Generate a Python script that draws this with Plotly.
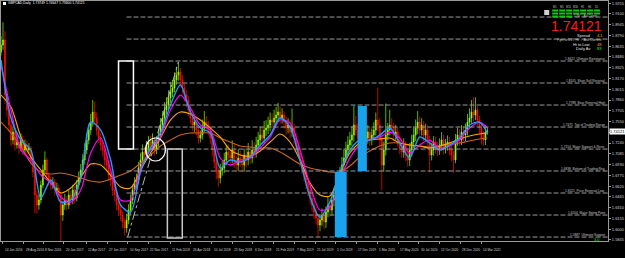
import pandas as pd
import plotly.graph_objects as go

# ---------------- data ----------------
title_text = "GBPCAD,Daily  1.73749 1.74647 1.73600 1.74121"
first_bar, last_bar = "2016-06-07", "2021-04-05"
first_open = 1.8550

close = [1.8652,1.8724,1.7932,1.7716,1.7500,1.7284,1.7399,1.7212,1.7255,1.7169,
 1.7284,1.7140,1.7212,1.7140,1.7169,1.6996,1.6823,1.6492,1.6348,1.6420,
 1.6636,1.6852,1.6996,1.6780,1.6708,1.6636,1.6679,1.6564,1.6593,1.6492,
 1.6204,1.6348,1.6420,1.6348,1.6492,1.6420,1.6564,1.6449,1.6636,1.6737,
 1.6852,1.6996,1.7140,1.7284,1.7428,1.7543,1.7687,1.7601,1.7428,1.7313,
 1.7212,1.7140,1.6996,1.6924,1.6780,1.6708,1.6564,1.6492,1.6348,1.6276,
 1.6204,1.6103,1.6017,1.6132,1.6276,1.6420,1.6564,1.6636,1.6708,1.6881,
 1.6996,1.7111,1.7068,1.7169,1.7255,1.7212,1.7284,1.7140,1.7255,1.7356,
 1.7500,1.7601,1.7716,1.7788,1.7889,1.7975,1.8033,1.8148,1.8220,1.8263,
 1.8148,1.8033,1.7932,1.7860,1.7716,1.7601,1.7500,1.7543,1.7428,1.7313,
 1.7356,1.7457,1.7543,1.7500,1.7428,1.7313,1.7140,1.6967,1.6823,1.6737,
 1.6852,1.6881,1.6996,1.7111,1.7068,1.7025,1.7140,1.6967,1.6924,1.7025,
 1.6996,1.6924,1.7068,1.6996,1.7111,1.7025,1.7140,1.7111,1.7212,1.7284,
 1.7356,1.7313,1.7428,1.7457,1.7500,1.7572,1.7543,1.7601,1.7644,1.7687,
 1.7601,1.7644,1.7543,1.7457,1.7500,1.7399,1.7457,1.7313,1.7212,1.7111,
 1.6996,1.6881,1.6780,1.6679,1.6564,1.6449,1.6348,1.6247,1.6161,1.6060,
 1.6132,1.6204,1.6103,1.6247,1.6348,1.6276,1.6420,1.6492,1.6564,1.6679,
 1.6780,1.6924,1.7025,1.7140,1.7212,1.7284,1.7356,1.7500,1.7428,1.7313,
 1.7255,1.7356,1.7284,1.7313,1.7399,1.7284,1.7356,1.7428,1.7572,1.7500,
 1.7284,1.6924,1.7140,1.7356,1.7428,1.7500,1.7457,1.7356,1.7399,1.7284,
 1.7169,1.7111,1.7212,1.7068,1.6996,1.7140,1.7255,1.7356,1.7457,1.7543,
 1.7428,1.7500,1.7356,1.7428,1.7284,1.7068,1.7140,1.7255,1.7169,1.7140,
 1.7212,1.7284,1.7169,1.7212,1.7255,1.7140,1.7068,1.6996,1.7284,1.7356,
 1.7284,1.7399,1.7356,1.7428,1.7543,1.7601,1.7687,1.7644,1.7716,1.7572,
 1.7457,1.7313,1.7284,1.7399,1.74121]

high = [1.878,1.898,1.885,1.800,1.780,1.757,1.748,1.746,1.734,1.733,
 1.738,1.735,1.729,1.727,1.724,1.720,1.704,1.686,1.655,1.650,
 1.670,1.693,1.712,1.703,1.682,1.676,1.675,1.672,1.667,1.664,
 1.653,1.641,1.651,1.648,1.656,1.655,1.664,1.662,1.671,1.683,
 1.694,1.708,1.724,1.738,1.752,1.766,1.786,1.784,1.768,1.750,
 1.738,1.728,1.720,1.707,1.698,1.684,1.677,1.663,1.655,1.641,
 1.635,1.627,1.616,1.622,1.636,1.650,1.664,1.675,1.680,1.697,
 1.710,1.722,1.718,1.727,1.734,1.735,1.738,1.733,1.733,1.745,
 1.760,1.770,1.783,1.790,1.800,1.812,1.815,1.826,1.834,1.841,
 1.832,1.822,1.810,1.800,1.792,1.778,1.768,1.762,1.760,1.748,
 1.742,1.758,1.770,1.763,1.756,1.748,1.738,1.720,1.702,1.689,
 1.694,1.698,1.710,1.720,1.722,1.716,1.728,1.722,1.705,1.715,
 1.713,1.708,1.716,1.715,1.724,1.718,1.728,1.725,1.733,1.740,
 1.748,1.747,1.756,1.757,1.762,1.768,1.767,1.772,1.776,1.782,
 1.777,1.774,1.770,1.762,1.760,1.758,1.774,1.752,1.738,1.728,
 1.717,1.705,1.695,1.684,1.674,1.663,1.651,1.642,1.632,1.622,
 1.621,1.630,1.628,1.633,1.646,1.643,1.652,1.660,1.666,1.678,
 1.690,1.704,1.715,1.726,1.734,1.740,1.748,1.778,1.763,1.752,
 1.740,1.745,1.743,1.742,1.750,1.748,1.745,1.754,1.768,1.804,
 1.760,1.735,1.726,1.781,1.753,1.772,1.760,1.753,1.750,1.746,
 1.735,1.724,1.731,1.727,1.713,1.724,1.736,1.748,1.758,1.770,
 1.762,1.760,1.756,1.752,1.750,1.735,1.724,1.734,1.733,1.726,
 1.731,1.740,1.736,1.730,1.735,1.733,1.721,1.713,1.737,1.746,
 1.744,1.750,1.748,1.752,1.766,1.774,1.786,1.790,1.790,1.777,
 1.763,1.752,1.741,1.750,1.7465]

low = [1.850,1.858,1.780,1.762,1.740,1.720,1.722,1.713,1.716,1.708,
 1.712,1.706,1.709,1.705,1.709,1.692,1.675,1.623,1.623,1.628,
 1.637,1.659,1.680,1.671,1.662,1.656,1.658,1.648,1.650,1.640,
 1.578,1.612,1.628,1.627,1.629,1.635,1.636,1.637,1.640,1.657,
 1.667,1.679,1.693,1.708,1.722,1.736,1.748,1.752,1.735,1.724,
 1.713,1.705,1.690,1.684,1.670,1.662,1.648,1.640,1.627,1.619,
 1.612,1.601,1.591,1.595,1.607,1.621,1.636,1.650,1.658,1.665,
 1.683,1.694,1.699,1.700,1.710,1.714,1.715,1.706,1.708,1.719,
 1.729,1.742,1.752,1.765,1.771,1.782,1.790,1.797,1.808,1.814,
 1.806,1.795,1.784,1.776,1.763,1.752,1.742,1.740,1.735,1.723,
 1.725,1.729,1.740,1.742,1.735,1.723,1.705,1.688,1.672,1.661,
 1.666,1.677,1.681,1.692,1.697,1.693,1.695,1.688,1.682,1.684,
 1.690,1.682,1.683,1.689,1.692,1.694,1.695,1.702,1.703,1.713,
 1.719,1.722,1.723,1.734,1.737,1.741,1.745,1.746,1.751,1.755,
 1.751,1.752,1.745,1.736,1.738,1.731,1.733,1.722,1.712,1.702,
 1.690,1.679,1.669,1.658,1.647,1.636,1.626,1.615,1.607,1.589,
 1.597,1.605,1.600,1.602,1.617,1.618,1.620,1.633,1.641,1.648,
 1.660,1.670,1.684,1.695,1.705,1.712,1.720,1.726,1.735,1.723,
 1.717,1.718,1.720,1.721,1.723,1.720,1.721,1.728,1.735,1.742,
 1.720,1.656,1.683,1.706,1.728,1.735,1.737,1.727,1.728,1.719,
 1.708,1.703,1.703,1.698,1.690,1.691,1.705,1.717,1.727,1.737,
 1.735,1.735,1.727,1.728,1.720,1.682,1.699,1.706,1.709,1.705,
 1.707,1.713,1.708,1.709,1.713,1.706,1.698,1.681,1.695,1.720,
 1.720,1.721,1.727,1.727,1.735,1.745,1.752,1.755,1.757,1.749,
 1.737,1.722,1.720,1.721,1.7360]

# moving averages sampled every 5th bar (plus the last bar)
ma_bar_index = list(range(0, 245, 5)) + [244]
ma_fast = [1.8436,1.7601,1.7284,1.7140,1.6449,1.6708,1.6391,1.6420,1.6737,1.7543,
 1.7428,1.6996,1.6348,1.6247,1.6823,1.7169,1.7385,1.7788,1.8076,1.7687,
 1.7457,1.7385,1.6881,1.6996,1.6967,1.7039,1.7212,1.7356,1.7601,1.7471,
 1.6996,1.6463,1.6175,1.6391,1.6823,1.7140,1.7284,1.7284,1.7356,1.7457,
 1.7241,1.7025,1.7327,1.7241,1.7140,1.7212,1.7313,1.7500,1.7543,1.7385]
ma_mid = [1.8364,1.7716,1.7140,1.6996,1.6780,1.6665,1.6463,1.6391,1.6564,1.7097,
 1.7313,1.6852,1.6420,1.6420,1.6881,1.7140,1.7327,1.7716,1.7932,1.7745,
 1.7500,1.7428,1.7025,1.6924,1.6996,1.7025,1.7169,1.7327,1.7572,1.7529,
 1.7140,1.6636,1.6276,1.6319,1.6708,1.7025,1.7212,1.7284,1.7327,1.7399,
 1.7313,1.7097,1.7212,1.7284,1.7169,1.7198,1.7284,1.7457,1.7543,1.7457]
ma_slow = [1.7932,1.7759,1.7327,1.7039,1.6852,1.6665,1.6521,1.6593,1.6751,1.6938,
 1.6924,1.6780,1.6607,1.6593,1.6852,1.7097,1.7313,1.7572,1.7687,1.7658,
 1.7572,1.7457,1.7327,1.7140,1.7068,1.7054,1.7126,1.7255,1.7370,1.7255,
 1.6996,1.6665,1.6492,1.6478,1.6809,1.7097,1.7241,1.7284,1.7298,1.7313,
 1.7241,1.7212,1.7198,1.7169,1.7198,1.7241,1.7298,1.7342,1.7370,1.7385]
ma_long = [1.7543,1.7385,1.7183,1.6953,1.6823,1.6794,1.6809,1.6780,1.6737,1.6694,
 1.6679,1.6722,1.6780,1.6838,1.6953,1.7068,1.7198,1.7284,1.7356,1.7385,
 1.7385,1.7385,1.7313,1.7255,1.7198,1.7183,1.7169,1.7169,1.7111,1.7025,
 1.6938,1.6881,1.6852,1.6823,1.6823,1.6910,1.7039,1.7126,1.7198,1.7241,
 1.7241,1.7212,1.7198,1.7183,1.7198,1.7226,1.7241,1.7270,1.7298,1.7313]

price_ticks = [1.5845,1.6000,1.6155,1.6310,1.6465,1.6620,1.6775,1.6930,1.7085,1.7240,
 1.7395,1.7550,1.7705,1.7860,1.8015,1.8170,1.8325,1.8480,1.8635,1.8790,
 1.8945,1.9100,1.9255]
date_labels = ["14 Jun 2016","28 Aug 2016","8 Nov 2016","20 Jan 2017","12 Apr 2017",
 "27 Jun 2017","10 Sep 2017","22 Nov 2017","11 Feb 2018","26 Apr 2018","10 Jul 2018",
 "23 Sep 2018","6 Dec 2018","21 Feb 2019","7 May 2019","21 Jul 2019","1 Oct 2019",
 "17 Dec 2019","1 Mar 2020","17 May 2020","30 Jul 2020","12 Oct 2020","28 Dec 2020",
 "14 Mar 2021"]

level_start = "2017-09-05"
level_prices = [1.9055,1.8738,1.8422,1.8105,1.7788,1.7471,1.7154,1.6838,1.6521,1.6204,1.5887]
level_names = ["","","Ultimate Resistance","Short Sell Reversal","Bear Reversal High",
 "Top of Trading Range","Major Support & Resis","Bottom of Trading Rng",
 "Price Reversal Low","Major Swing Point","Ultimate Support"]

blue_boxes = [("2019-09-30","2019-11-12",1.5887,1.6823),
              ("2019-12-22","2020-01-24",1.6838,1.7774)]
white_box = ("2017-08-07","2017-09-30",1.7154,1.8422)
gray_box = ("2018-01-31","2018-03-26",1.5873,1.7154)
circle_box = ("2017-11-13","2018-01-24",1.6982,1.7313)
trend_line = ("2017-09-09",1.5887,"2018-03-12",1.8407)

last_price = "1.74121"
panel_rows = [("Spread","4.1","#FFA500"),("Hi to Low","48","#FFA500"),("Daily Av","83","#00FF00")]
tf_labels = ["M1","M5","M15","M30","H1","H4","D1"]

# ---------------- figure ----------------
W, H = 625, 258
ML, MR, MT, MB = 0, 16, 1, 17
PW, PH = W - ML - MR, H - MT - MB
def px(v): return (v - ML) / PW
def py(v): return (MT + PH - v) / PH

dates = pd.date_range(first_bar, last_bar, periods=len(close))
opens = [first_open] + close[:-1]
ma_dates = dates[ma_bar_index]
x_range = ["2016-06-07", "2022-06-16"]
y_range = [1.5830, 1.9286]

fig = go.Figure()
fig.add_trace(go.Candlestick(
    x=dates, open=opens, high=high, low=low, close=close,
    increasing=dict(line=dict(color="#7FFF00", width=0.7), fillcolor="#D0FF00"),
    decreasing=dict(line=dict(color="#FF1000", width=0.7), fillcolor="#FF0000"),
    whiskerwidth=0, hoverinfo="skip"))
for vals, col, w in [(ma_long, "#C86420", 1.1), (ma_slow, "#FFA500", 1.1),
                     (ma_mid, "#FF00FF", 1.2), (ma_fast, "#1E9BFF", 1.4)]:
    fig.add_trace(go.Scatter(x=ma_dates, y=vals, mode="lines",
                             line=dict(color=col, width=w, shape="spline", smoothing=0.8),
                             hoverinfo="skip"))

shapes = []
for p in level_prices:
    shapes.append(dict(type="line", xref="x", yref="y", x0=level_start, x1=x_range[1], y0=p, y1=p,
                       line=dict(color="#9A9A9A", width=1, dash="5px,2px"), layer="above"))
for x0, x1, y0, y1 in blue_boxes:
    shapes.append(dict(type="rect", xref="x", yref="y", x0=x0, x1=x1, y0=y0, y1=y1,
                       fillcolor="#1AA3EC", line=dict(width=0), layer="above"))
shapes.append(dict(type="rect", xref="x", yref="y", x0=white_box[0], x1=white_box[1],
                   y0=white_box[2], y1=white_box[3], line=dict(color="#FFFFFF", width=1.5), layer="above"))
shapes.append(dict(type="rect", xref="x", yref="y", x0=gray_box[0], x1=gray_box[1],
                   y0=gray_box[2], y1=gray_box[3], line=dict(color="#C8C8C8", width=1.5), layer="above"))
shapes.append(dict(type="circle", xref="x", yref="y", x0=circle_box[0], x1=circle_box[1],
                   y0=circle_box[2], y1=circle_box[3], line=dict(color="#FFFFFF", width=1.2), layer="above"))
shapes.append(dict(type="line", xref="x", yref="y", x0=trend_line[0], y0=trend_line[1],
                   x1=trend_line[2], y1=trend_line[3],
                   line=dict(color="#B4B4B4", width=1, dash="dashdot"), layer="above"))

# info panel grid (decoration)
cols_x = [556 + 7 * k for k in range(len(tf_labels))]
for r, yy in enumerate([10.5, 13.5, 16.5]):
    for k, cx in enumerate(cols_x):
        if r == 2 and k > 2:
            continue
        shapes.append(dict(type="rect", xref="paper", yref="paper",
                           x0=px(cx - 3), x1=px(cx + 3), y0=py(yy + 1), y1=py(yy - 1),
                           fillcolor="#10C810", line=dict(width=0), layer="above"))
shapes.append(dict(type="rect", xref="paper", yref="paper", x0=px(545), x1=px(550),
                   y0=py(15), y1=py(10), fillcolor="#D0D0D0", line=dict(width=0), layer="above"))
shapes.append(dict(type="rect", xref="paper", yref="paper", x0=px(2), x1=px(5),
                   y0=py(5), y1=py(2), fillcolor="#FFFFFF", line=dict(width=0), layer="above"))

ann = []
FONT = "Liberation Sans, Arial, sans-serif"
def note(text, x, y, xa, size, color, xref="paper", yref="paper", **kw):
    d = dict(text=text, xref=xref, yref=yref, x=x, y=y, xanchor=xa, yanchor="middle",
             showarrow=False, borderpad=0, font=dict(size=size, color=color, family=kw.pop("family", FONT)))
    d.update(kw)
    ann.append(d)

note(title_text, px(6), py(3.5), "left", 3.4, "#FFFFFF")
for d in date_labels:
    note(d, pd.to_datetime(d, format="%d %b %Y"), py(249.5), "left", 3.2, "#D0D0D0", xref="x", xshift=1)
for p, name in zip(level_prices, level_names):
    if name:
        note(f"{p:.4f}  {name}", px(607), p, "right", 3.2, "#C8C8C8", yref="y", yanchor="bottom", yshift=-1)
note(last_price, 1.0, float(last_price), "left", 4, "#000000", yref="y", xshift=1, bgcolor="#FFFFFF")
for lab, cx in zip(tf_labels, cols_x):
    note(lab, px(cx), py(7), "center", 2.6, "#C0C0C0")
note("LOW  -  Ask Current", px(574), py(16.2), "left", 2.6, "#D8D8D8")
note(last_price, px(604), py(26), "right", 14, "#FF1A1A",
     family="Liberation Sans Narrow, Liberation Sans, Arial")
note("Pips to DLY Hi  -  Ask Current", px(603), py(39.5), "right", 3.4, "#D0D0D0")
for (lab, val, col), yy in zip(panel_rows, [35.5, 44, 48.5]):
    note(lab, px(592), py(yy), "right", 4, "#E0E0E0")
    note(val, px(597), py(yy), "left", 4, col)
note("3.0", px(598), py(239.8), "center", 4, "#00E000")

tick_text = ["" if abs(v - float(last_price)) < 0.004 else f"{v:.4f}" for v in price_ticks]

fig.update_layout(
    width=W, height=H, margin=dict(l=ML, r=MR, t=MT, b=MB),
    paper_bgcolor="#000000", plot_bgcolor="#000000", showlegend=False,
    shapes=shapes, annotations=ann,
    xaxis=dict(range=x_range, type="date", rangeslider=dict(visible=False),
               showgrid=False, zeroline=False, showline=True, linecolor="#9A9A9A", linewidth=1,
               mirror=True, tickvals=[pd.to_datetime(d, format="%d %b %Y") for d in date_labels],
               ticks="outside", ticklen=2, tickcolor="#9A9A9A", showticklabels=False),
    yaxis=dict(range=y_range, side="right", showgrid=False, zeroline=False,
               showline=True, linecolor="#9A9A9A", linewidth=1, mirror=True,
               tickvals=price_ticks, ticktext=tick_text,
               ticks="outside", ticklen=2, tickcolor="#9A9A9A",
               tickfont=dict(size=4, color="#D0D0D0", family=FONT)),
)
fig.write_html("out.html")
